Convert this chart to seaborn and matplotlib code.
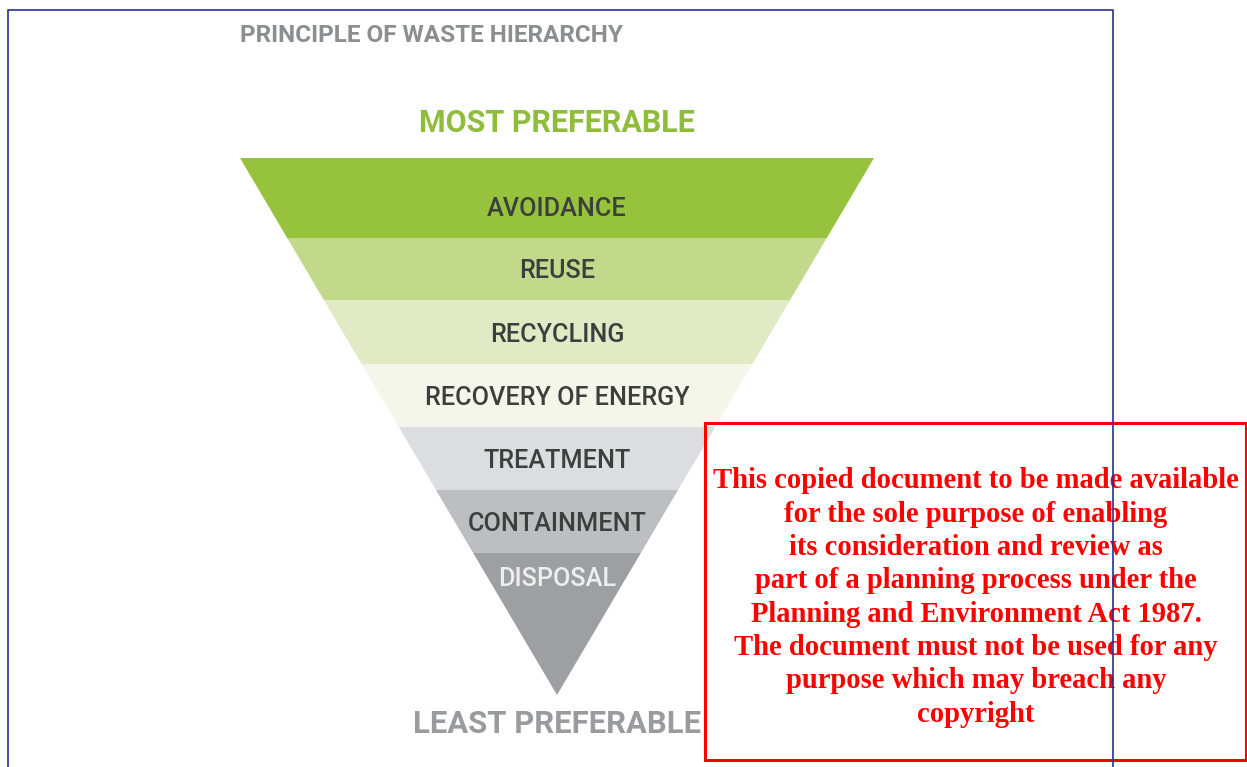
import numpy as np
import matplotlib.pyplot as plt
import seaborn as sns
from matplotlib.patches import Rectangle

# waste hierarchy tiers, most preferable first
tiers = ['AVOIDANCE', 'REUSE', 'RECYCLING', 'RECOVERY OF ENERGY',
         'TREATMENT', 'CONTAINMENT', 'DISPOSAL']
tier_depths = [80, 62, 64, 63, 63, 63, 142]
tier_colors = ['#97c23e', '#c2d98c', '#e0ebc6', '#f3f6e9',
               '#dcdde0', '#bdbec2', '#9e9fa3']
label_colors = ['#3c403d'] * 6 + ['#eeeeee']

title = 'PRINCIPLE OF WASTE HIERARCHY'
top_label = 'MOST PREFERABLE'
bottom_label = 'LEAST PREFERABLE'
notice = ['This copied document to be made available',
          'for the sole purpose of enabling',
          'its consideration and review as',
          'part of a planning process under the',
          'Planning and Environment Act 1987.',
          'The document must not be used for any',
          'purpose which may breach any',
          'copyright']


def funnel_halfwidth(y, top, apex, half_top):
    return half_top * (apex - y) / (apex - top)


def main():
    sns.set_style('white')
    plt.rcParams['font.family'] = ['Roboto', 'DejaVu Sans']

    W, H = 1247, 767
    fig = plt.figure(figsize=(W / 100, H / 100), dpi=100)
    ax = fig.add_axes([0, 0, 1, 1])
    ax.set_xlim(0, W)
    ax.set_ylim(H, 0)
    ax.axis('off')

    cx, top, half_top = 557, 158, 317
    edges = top + np.concatenate([[0], np.cumsum(tier_depths)])
    apex = edges[-1]

    for i, name in enumerate(tiers):
        y0, y1 = edges[i], edges[i + 1]
        w0 = funnel_halfwidth(y0, top, apex, half_top)
        w1 = funnel_halfwidth(y1, top, apex, half_top)
        ax.fill([cx - w0, cx + w0, cx + w1, cx - w1], [y0, y0, y1, y1],
                color=tier_colors[i], lw=0)
        ly = y1 - 29 if i < len(tiers) - 1 else y0 + 26
        ax.text(cx, ly, name, ha='center', va='center', fontsize=18.2,
                color=label_colors[i], fontweight='medium')

    ax.text(240, 36, title, ha='left', va='center', fontsize=17.5,
            color='#8c8e91', fontweight='bold')
    ax.text(cx, 123, top_label, ha='center', va='center', fontsize=22,
            color='#8fbc3b', fontweight='bold')
    ax.text(cx, 724, bottom_label, ha='center', va='center', fontsize=22.3,
            color='#9a9b9e', fontweight='bold')

    # notice box
    ax.add_patch(Rectangle((705, 423), 541, 337, fill=False,
                           ec='#ff0000', lw=2.2, zorder=3))
    for k, line in enumerate(notice):
        ax.text(976, 481 + k * 33.3, line, ha='center', va='center',
                fontsize=20.6, color='#ff0000', fontweight='bold',
                family=['Liberation Serif', 'DejaVu Serif'], zorder=4)

    # page frame
    ax.plot([8, 8, 1113, 1113], [H, 10, 10, H], color='#2a2e92',
            lw=1.2, zorder=5)

    plt.savefig('out.png', dpi=100)


if __name__ == '__main__':
    main()
